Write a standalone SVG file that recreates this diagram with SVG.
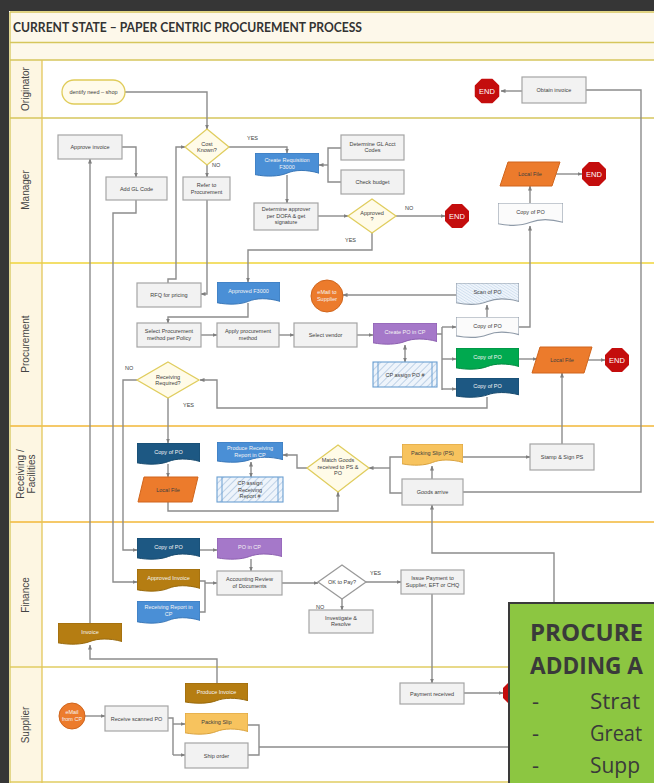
<svg xmlns="http://www.w3.org/2000/svg" xmlns:xlink="http://www.w3.org/1999/xlink" width="654" height="783" viewBox="0 0 654 783">
<style>
.t{font-family:"Liberation Sans",Arial,sans-serif;font-size:5.5px;fill:#404040;text-anchor:middle}
.tw{font-family:"Liberation Sans",Arial,sans-serif;font-size:5.5px;fill:#f4f4f4;text-anchor:middle}
.lbl{font-family:"Liberation Sans",Arial,sans-serif;font-size:5.5px;fill:#404040}
.lane{font-family:"Liberation Sans",Arial,sans-serif;font-size:10px;fill:#444;text-anchor:middle}
.box{fill:#f2f2f2;stroke:#a5a5a5;stroke-width:1.2}
.dia{fill:#fffbe8;stroke:#e0cd5e;stroke-width:1.3}
.c{fill:none;stroke:#8c8c8c;stroke-width:1.4;marker-end:url(#ah)}
.cn{fill:none;stroke:#8c8c8c;stroke-width:1.4}
.cd{fill:none;stroke:#8c8c8c;stroke-width:1.4;marker-end:url(#ah);marker-start:url(#ahs)}
.blue{fill:#4a8fd6;stroke:#3b78b8;stroke-width:1}
.purple{fill:#a578c9;stroke:#8c5fb0;stroke-width:1}
.dblue{fill:#1d5883;stroke:#174a6e;stroke-width:1}
.green{fill:#00a94f;stroke:#008a40;stroke-width:1}
.gold{fill:#b57d12;stroke:#98690c;stroke-width:1}
.ylw{fill:#f7c35e;stroke:#d9a23e;stroke-width:1}
.wdoc{fill:#fbfbfb;stroke:#8e9aa8;stroke-width:1.1}
.hdoc{fill:url(#hatch);stroke:#8e9aa8;stroke-width:1.1}
.orange{fill:#ec7b2c;stroke:#d0651c;stroke-width:1}
.endt{font-family:"Liberation Sans",Arial,sans-serif;font-size:7.5px;fill:#fff;text-anchor:middle}
.big{font-family:"Open Sans","Liberation Sans",sans-serif;font-size:24px;fill:#3a3a3a;font-weight:bold}
.item{font-family:"Open Sans","Liberation Sans",sans-serif;font-size:22px;fill:#3a3a3a}
</style>
<defs>
<marker id="ah" viewBox="0 0 10 10" refX="9" refY="5" markerWidth="5" markerHeight="5" markerUnits="userSpaceOnUse" orient="auto"><path d="M0,1 L10,5 L0,9 z" fill="#7f7f7f"/></marker>
<marker id="ahs" viewBox="0 0 10 10" refX="9" refY="5" markerWidth="5" markerHeight="5" markerUnits="userSpaceOnUse" orient="auto-start-reverse"><path d="M0,1 L10,5 L0,9 z" fill="#7f7f7f"/></marker>
<pattern id="hatch" width="5" height="5" patternUnits="userSpaceOnUse" patternTransform="rotate(45)"><rect width="5" height="5" fill="#eef4fb"/><line x1="0" y1="0" x2="0" y2="5" stroke="#a9c3de" stroke-width="1.4"/></pattern>
<symbol id="doc" viewBox="0 0 100 100" preserveAspectRatio="none"><path d="M0,0 H100 V84 C80,68 62,70 50,84 C38,98 18,100 0,90 Z" vector-effect="non-scaling-stroke"/></symbol>
<symbol id="oct" viewBox="0 0 24 24"><polygon points="7,0 17,0 24,7 24,17 17,24 7,24 0,17 0,7" fill="#c40d0d"/></symbol>
</defs>

<rect x="0" y="0" width="654" height="783" fill="#363636"/>
<rect x="9" y="11" width="645" height="772" fill="#ffffff"/>
<rect x="10" y="12" width="644" height="48" fill="#fdf8ea"/>
<rect x="10" y="60" width="32" height="723" fill="#fdf6e2"/>
<g fill="none" stroke-width="1.3">
<line x1="10" y1="12" x2="654" y2="12" stroke="#d6c65c"/>
<line x1="10" y1="42.5" x2="654" y2="42.5" stroke="#d6c65c"/>
<line x1="10" y1="60" x2="654" y2="60" stroke="#d6c65c"/>
<line x1="10" y1="118" x2="654" y2="118" stroke="#d6c65c"/>
<line x1="10" y1="263" x2="654" y2="263" stroke="#efd43a"/>
<line x1="10" y1="426" x2="654" y2="426" stroke="#f2b737"/>
<line x1="10" y1="522" x2="654" y2="522" stroke="#f2b737"/>
<line x1="10" y1="667" x2="654" y2="667" stroke="#e0cc62"/>
<line x1="10" y1="782" x2="654" y2="782" stroke="#e0cc62"/>
<line x1="10" y1="12" x2="10" y2="783" stroke="#d6c65c"/>
<line x1="42" y1="60" x2="42" y2="783" stroke="#e3c65a"/>
</g>
<text x="13" y="32" font-family="Lato,'Liberation Sans',sans-serif" font-weight="bold" font-size="12.5" fill="#333" textLength="349" lengthAdjust="spacingAndGlyphs">CURRENT STATE – PAPER CENTRIC PROCUREMENT PROCESS</text>

<g id="lanes">
<text class="lane" transform="translate(29,89) rotate(-90)">Originator</text>
<text class="lane" transform="translate(29,190) rotate(-90)">Manager</text>
<text class="lane" transform="translate(29,344) rotate(-90)">Procurement</text>
<text class="lane" transform="translate(24,474) rotate(-90)">Receiving /</text>
<text class="lane" transform="translate(35,474) rotate(-90)">Facilities</text>
<text class="lane" transform="translate(29,595) rotate(-90)">Finance</text>
<text class="lane" transform="translate(29,725) rotate(-90)">Supplier</text>
</g>

<g id="connectors">
<path class="c" d="M125,92 H207 V129"/>
<path class="c" d="M522,91 H501"/>
<path class="cn" d="M463,492 H641 V90 H586"/>
<path class="c" d="M122,147 H136 V177"/>
<path class="c" d="M207,165 V177"/>
<path class="c" d="M229,147 H287 V153"/>
<path class="cn" d="M341,148 H328 V182 H341"/>
<path class="c" d="M328,165 H319"/>
<path class="c" d="M287,175 V203"/>
<path class="c" d="M318,216 H348"/>
<path class="c" d="M396,216 H445"/>
<path class="c" d="M372,233 V250 H248 V282"/>
<path class="c" d="M556,174 H582"/>
<path class="c" d="M530,203 V186"/>
<path class="c" d="M168,283 V279 H176 V147 H185"/>
<path class="c" d="M207,200 V294 H201"/>
<path class="c" d="M248,303 V317 H168 V323"/>
<path class="c" d="M201,335 H217"/>
<path class="c" d="M279,335 H294"/>
<path class="c" d="M357,335 H373"/>
<path class="cd" d="M405,345 V362"/>
<path class="c" d="M456,295 H343"/>
<path class="c" d="M487,317 V305"/>
<path class="cn" d="M437,334 H442 M442,327 V390"/>
<path class="c" d="M442,327 H456"/>
<path class="c" d="M442,359 H456"/>
<path class="c" d="M442,389 H456"/>
<path class="c" d="M519,327 H530 V226"/>
<path class="c" d="M519,359 H537"/>
<path class="c" d="M588,360 H605"/>
<path class="c" d="M562,444 V373"/>
<path class="c" d="M487,397 V408 H217 V380 H200"/>
<path class="c" d="M137,380 H123 V550 H137"/>
<path class="c" d="M168,398 V443"/>
<path class="c" d="M168,464 V477"/>
<path class="c" d="M168,502 V511 H338 V492"/>
<path class="cd" d="M251,462 V477"/>
<path class="c" d="M307,468 H297 V455 H283"/>
<path class="cn" d="M402,457 H390 V493 H402"/>
<path class="c" d="M390,468 H369"/>
<path class="c" d="M432,479 V466"/>
<path class="c" d="M463,457 H530"/>
<path class="c" d="M259,747 H554 V553 H432 V505"/>
<path class="c" d="M200,550 H217"/>
<path class="c" d="M251,559 V571"/>
<path class="cn" d="M200,581 H205 V612 H200"/>
<path class="c" d="M205,583 H217"/>
<path class="c" d="M136,200 V213 H113 V582 H137"/>
<path class="c" d="M282,583 H318"/>
<path class="c" d="M366,582 H401"/>
<path class="c" d="M342,599 V610"/>
<path class="c" d="M432,594 V683"/>
<path class="c" d="M90,623 V159"/>
<path class="c" d="M217,683 V659 H90 V645"/>
<path class="c" d="M85,716 H105"/>
<path class="cn" d="M168,718 H173 V755"/>
<path class="c" d="M173,724 H185"/>
<path class="c" d="M173,755 H185"/>
<path class="cn" d="M248,725 H259 V755 H248"/>
<path class="c" d="M464,693 H503"/>
</g>
<g id="edge-labels">
<text class="lbl" x="212" y="167">NO</text>
<text class="lbl" x="247" y="140">YES</text>
<text class="lbl" x="405" y="210">NO</text>
<text class="lbl" x="345" y="242">YES</text>
<text class="lbl" x="125" y="370">NO</text>
<text class="lbl" x="183" y="407">YES</text>
<text class="lbl" x="370" y="575">YES</text>
<text class="lbl" x="316" y="609">NO</text>
</g>

<g id="n-identify"><rect x="62" y="80" width="63" height="24" rx="12" fill="#fffbea" stroke="#e0cc5a" stroke-width="1.3"/><text class="t" x="93.5" y="94">dentify need – shop</text></g>
<g id="n-obtain"><rect class="box" x="522" y="77" width="64" height="26"/><text class="t" x="554" y="92">Obtain invoice</text></g>
<g id="n-end1"><use href="#oct" x="474.5" y="78.5" width="25" height="25"/><text class="endt" x="487" y="93.5">END</text></g>

<g id="n-approve-invoice"><rect class="box" x="58" y="135" width="64" height="24"/><text class="t" x="90" y="149">Approve invoice</text></g>
<g id="n-add-gl"><rect class="box" x="106" y="177" width="61" height="23"/><text class="t" x="136.5" y="190.5">Add GL Code</text></g>
<g id="n-cost-known"><polygon class="dia" points="207,129 229,147 207,165 185,147"/><text class="t" x="207" y="146">Cost</text><text class="t" x="207" y="152">Known?</text></g>
<g id="n-refer"><rect class="box" x="183" y="177" width="47" height="23"/><text class="t" x="206.5" y="187">Refer to</text><text class="t" x="206.5" y="193.5">Procurement</text></g>
<g id="n-create-req"><use href="#doc" class="blue" x="255" y="153" width="64" height="24"/><text class="tw" x="287" y="162">Create Requisition</text><text class="tw" x="287" y="168.5">F3000</text></g>
<g id="n-det-gl"><rect class="box" x="341" y="135" width="63" height="25"/><text class="t" x="372.5" y="145.5">Determine GL Acct</text><text class="t" x="372.5" y="152">Codes</text></g>
<g id="n-check-budget"><rect class="box" x="341" y="170" width="63" height="24"/><text class="t" x="372.5" y="184">Check budget</text></g>
<g id="n-det-approver"><rect class="box" x="254" y="203" width="64" height="27"/><text class="t" x="286" y="211">Determine approver</text><text class="t" x="286" y="217.5">per DOFA &amp; get</text><text class="t" x="286" y="224">signature</text></g>
<g id="n-approved"><polygon class="dia" points="372,199 396,216 372,233 348,216"/><text class="t" x="372" y="215">Approved</text><text class="t" x="372" y="221">?</text></g>
<g id="n-end2"><use href="#oct" x="445" y="204" width="24" height="24"/><text class="endt" x="457" y="218.5">END</text></g>
<g id="n-local-file1"><polygon class="orange" points="508,162 560,162 552,186 500,186"/><text class="t" x="530" y="176">Local File</text></g>
<g id="n-end3"><use href="#oct" x="582" y="162" width="24" height="24"/><text class="endt" x="594" y="176.5">END</text></g>
<g id="n-copy-po-mgr"><use href="#doc" class="wdoc" x="498" y="203" width="65" height="23"/><text class="t" x="530.5" y="214">Copy of PO</text></g>

<g id="n-rfq"><rect class="box" x="137" y="283" width="64" height="24"/><text class="t" x="169" y="297">RFQ for pricing</text></g>
<g id="n-approved-f3000"><use href="#doc" class="blue" x="217" y="282" width="63" height="23"/><text class="tw" x="248.5" y="293">Approved F3000</text></g>
<g id="n-email-supplier"><circle cx="327" cy="296" r="16" class="orange"/><text class="tw" x="327" y="294">eMail to</text><text class="tw" x="327" y="300.5">Supplier</text></g>
<g id="n-select-proc"><rect class="box" x="137" y="323" width="64" height="24"/><text class="t" x="169" y="333">Select Procurement</text><text class="t" x="169" y="339.5">method per Policy</text></g>
<g id="n-apply"><rect class="box" x="217" y="323" width="62" height="24"/><text class="t" x="248" y="333">Apply procurement</text><text class="t" x="248" y="339.5">method</text></g>
<g id="n-select-vendor"><rect class="box" x="294" y="323" width="63" height="24"/><text class="t" x="325.5" y="337">Select vendor</text></g>
<g id="n-create-po"><use href="#doc" class="purple" x="373" y="323" width="64" height="22"/><text class="tw" x="405" y="334">Create PO in CP</text></g>
<g id="n-cp-assign-po"><rect x="373" y="362" width="64" height="25" fill="url(#hatch)" stroke="#6a9fd2" stroke-width="1.1"/><line x1="378" y1="362" x2="378" y2="387" stroke="#6a9fd2"/><line x1="432" y1="362" x2="432" y2="387" stroke="#6a9fd2"/><text class="t" x="405" y="376.5">CP assign PO #</text></g>
<g id="n-scan-po"><use href="#doc" class="hdoc" x="456" y="283" width="63" height="22"/><text class="t" x="487.5" y="294">Scan of PO</text></g>
<g id="n-copy-po-white"><use href="#doc" class="wdoc" x="456" y="317" width="63" height="21"/><text class="t" x="487.5" y="328">Copy of PO</text></g>
<g id="n-copy-po-green"><use href="#doc" class="green" x="456" y="348" width="63" height="22"/><text class="tw" x="487.5" y="359">Copy of PO</text></g>
<g id="n-copy-po-dblue"><use href="#doc" class="dblue" x="456" y="378" width="63" height="20"/><text class="tw" x="487.5" y="388">Copy of PO</text></g>
<g id="n-local-file2"><polygon class="orange" points="540,347 592,347 584,373 532,373"/><text class="t" x="562" y="362">Local File</text></g>
<g id="n-end4"><use href="#oct" x="605" y="348" width="24" height="24"/><text class="endt" x="617" y="362.5">END</text></g>
<g id="n-receiving-req"><polygon class="dia" points="168,362 199,380 168,398 137,380"/><text class="t" x="168" y="379">Receiving</text><text class="t" x="168" y="385">Required?</text></g>

<g id="n-copy-po-recv"><use href="#doc" class="dblue" x="137" y="443" width="63" height="22"/><text class="tw" x="168.5" y="454">Copy of PO</text></g>
<g id="n-local-file3"><polygon class="orange" points="144,477 198,477 192,502 138,502"/><text class="t" x="168" y="491.5">Local File</text></g>
<g id="n-produce-rr"><use href="#doc" class="blue" x="217" y="442" width="66" height="21"/><text class="tw" x="250" y="450">Produce Receiving</text><text class="tw" x="250" y="456.5">Report in CP</text></g>
<g id="n-cp-assign-rr"><rect x="217" y="477" width="66" height="25" fill="url(#hatch)" stroke="#6a9fd2" stroke-width="1.1"/><line x1="222" y1="477" x2="222" y2="502" stroke="#6a9fd2"/><line x1="278" y1="477" x2="278" y2="502" stroke="#6a9fd2"/><text class="t" x="250" y="485">CP assign</text><text class="t" x="250" y="491.5">Receiving</text><text class="t" x="250" y="498">Report #</text></g>
<g id="n-match"><polygon class="dia" points="338,445 369,468 338,492 307,468"/><text class="t" x="338" y="462">Match Goods</text><text class="t" x="338" y="468.5">received to PS &amp;</text><text class="t" x="338" y="475">PO</text></g>
<g id="n-ps"><use href="#doc" class="ylw" x="402" y="444" width="61" height="22"/><text class="t" x="432.5" y="455">Packing Slip (PS)</text></g>
<g id="n-goods-arrive"><rect class="box" x="402" y="479" width="61" height="26"/><text class="t" x="432.5" y="494">Goods arrive</text></g>
<g id="n-stamp"><rect class="box" x="530" y="444" width="64" height="26"/><text class="t" x="562" y="459">Stamp &amp; Sign PS</text></g>

<g id="n-copy-po-fin"><use href="#doc" class="dblue" x="137" y="538" width="63" height="22"/><text class="tw" x="168.5" y="549">Copy of PO</text></g>
<g id="n-po-in-cp"><use href="#doc" class="purple" x="217" y="538" width="65" height="22"/><text class="tw" x="249.5" y="549">PO in CP</text></g>
<g id="n-approved-invoice"><use href="#doc" class="gold" x="137" y="569" width="63" height="23"/><text class="tw" x="168.5" y="580">Approved Invoice</text></g>
<g id="n-rr-in-cp"><use href="#doc" class="blue" x="137" y="601" width="63" height="23"/><text class="tw" x="168.5" y="609">Receiving Report in</text><text class="tw" x="168.5" y="615.5">CP</text></g>
<g id="n-accounting"><rect class="box" x="217" y="571" width="65" height="24"/><text class="t" x="249.5" y="581">Accounting Review</text><text class="t" x="249.5" y="587.5">of Documents</text></g>
<g id="n-ok-to-pay"><polygon points="342,565 366,582 342,599 318,582" fill="#ffffff" stroke="#9a9a9a" stroke-width="1.3"/><text class="t" x="342" y="584">OK to Pay?</text></g>
<g id="n-issue-payment"><rect class="box" x="401" y="570" width="63" height="24"/><text class="t" x="432.5" y="580">Issue Payment to</text><text class="t" x="432.5" y="586.5">Supplier, EFT or CHQ</text></g>
<g id="n-investigate"><rect class="box" x="309" y="610" width="64" height="23"/><text class="t" x="341" y="619.5">Investigate &amp;</text><text class="t" x="341" y="626">Resolve</text></g>
<g id="n-invoice"><use href="#doc" class="gold" x="58" y="623" width="64" height="22"/><text class="tw" x="90" y="634">Invoice</text></g>

<g id="n-email-cp"><circle cx="72" cy="716" r="13" class="orange"/><text class="tw" x="72" y="714">eMail</text><text class="tw" x="72" y="720.5">from CP</text></g>
<g id="n-receive-po"><rect class="box" x="105" y="706" width="63" height="25"/><text class="t" x="136.5" y="720.5">Receive scanned PO</text></g>
<g id="n-produce-invoice"><use href="#doc" class="gold" x="185" y="683" width="63" height="21"/><text class="tw" x="216.5" y="693.5">Produce Invoice</text></g>
<g id="n-packing-slip"><use href="#doc" class="ylw" x="185" y="713" width="63" height="22"/><text class="t" x="216.5" y="724">Packing Slip</text></g>
<g id="n-ship-order"><rect class="box" x="185" y="743" width="63" height="25"/><text class="t" x="216.5" y="757.5">Ship order</text></g>
<g id="n-payment-received"><rect class="box" x="400" y="683" width="64" height="21"/><text class="t" x="432" y="695.5">Payment received</text></g>
<g id="n-end5"><use href="#oct" x="503" y="681" width="24" height="24"/></g>

<g id="callout">
<rect x="509" y="603" width="150" height="185" fill="#8cc641" stroke="#3a3a3a" stroke-width="2"/>
<text class="big" x="530" y="641" textLength="113" lengthAdjust="spacingAndGlyphs">PROCURE</text>
<text class="big" x="530" y="674" textLength="113" lengthAdjust="spacingAndGlyphs">ADDING A</text>
<text class="item" x="532" y="709">-</text><text class="item" x="590" y="709" textLength="50" lengthAdjust="spacingAndGlyphs">Strat</text>
<text class="item" x="532" y="741">-</text><text class="item" x="590" y="741" textLength="52" lengthAdjust="spacingAndGlyphs">Great</text>
<text class="item" x="532" y="773">-</text><text class="item" x="590" y="773" textLength="50" lengthAdjust="spacingAndGlyphs">Supp</text>
</g>
</svg>
